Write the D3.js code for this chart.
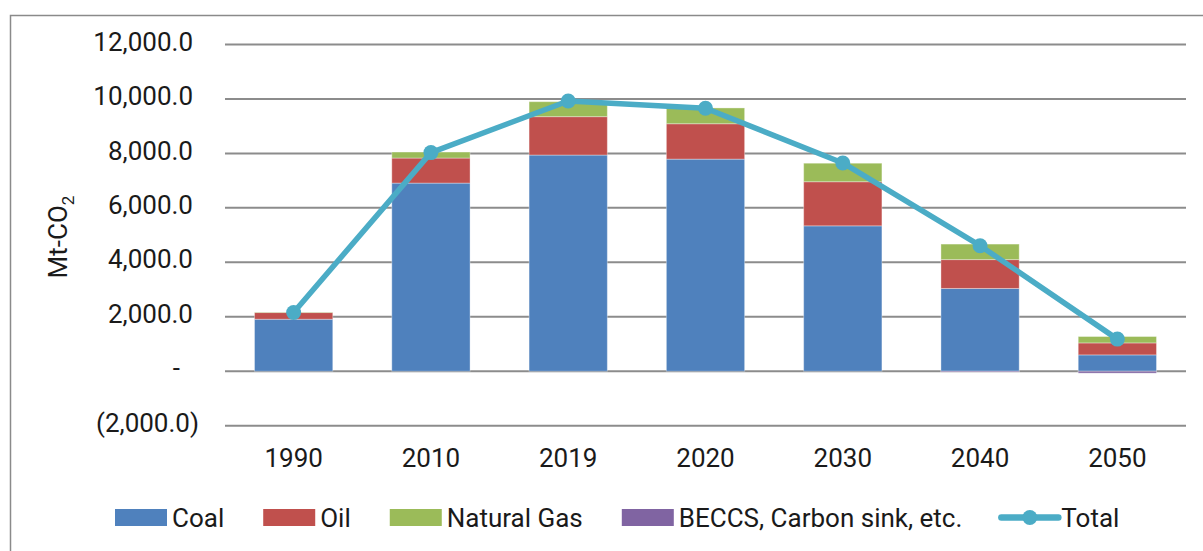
<!DOCTYPE html>
<html>
<head>
<meta charset="utf-8">
<script src="https://cdn.jsdelivr.net/npm/d3@7"></script>
<style>
  body { margin: 0; background: #fff; }
  svg text { font-family: Roboto, "Open Sans", sans-serif; font-weight: 400; fill: #1a1a1a; }
</style>
</head>
<body>
<div id="chart"></div>
<script>
// values (Mt-CO2)
const years = ["1990", "2010", "2019", "2020", "2030", "2040", "2050"];
const coal = [1910, 6910, 7940, 7790, 5340, 3040, 600];
const oil = [245, 920, 1410, 1300, 1620, 1060, 440];
const gas = [15, 220, 550, 580, 680, 570, 235];
const beccs = [0, 0, 0, 0, 0, -30, -70];
const total = [2160, 8030, 9925, 9660, 7650, 4610, 1180];
const yTicks = [-2000, 0, 2000, 4000, 6000, 8000, 10000, 12000];

const seriesKeys = ["Coal", "Oil", "Natural Gas", "BECCS, Carbon sink, etc."];
const colors = {
  "Coal": "#4f81bd",
  "Oil": "#c0504d",
  "Natural Gas": "#9bbb59",
  "BECCS, Carbon sink, etc.": "#8064a2",
  "Total": "#4bacc6"
};

const W = 1203, H = 551;
const rows = years.map((y, i) => ({
  year: y,
  "Coal": coal[i],
  "Oil": oil[i],
  "Natural Gas": gas[i],
  "BECCS, Carbon sink, etc.": beccs[i],
  total: total[i]
}));

const svg = d3.select("#chart").append("svg")
  .attr("width", W)
  .attr("height", H);

// frame (left + top edges only are visible in the reference)
svg.append("path")
  .attr("d", `M10.5,${H} V15.5 H${W}`)
  .attr("fill", "none")
  .attr("stroke", "#8a8a8a")
  .attr("stroke-width", 1.5);

const x = d3.scaleBand()
  .domain(years)
  .range([225, 1186])
  .paddingInner(0.43)
  .paddingOuter(0.215);

const y = d3.scaleLinear()
  .domain([-2000, 12000])
  .range([425.7, 44.5]);

// gridlines
svg.append("g")
  .selectAll("line")
  .data(yTicks)
  .join("line")
  .attr("x1", 225)
  .attr("x2", 1186)
  .attr("y1", d => y(d))
  .attr("y2", d => y(d))
  .attr("stroke", "#8c8c8c")
  .attr("stroke-width", 2);

// y tick labels, accounting format
const fmt = d3.format(",.1f");
const tickText = d => d === 0 ? "-" : d < 0 ? `(${fmt(-d)})` : fmt(d);
svg.append("g")
  .selectAll("text")
  .data(yTicks)
  .join("text")
  .attr("x", d => d < 0 ? 199 : d === 0 ? 180 : 193)
  .attr("y", d => y(d) - 3)
  .attr("dy", "0.35em")
  .attr("text-anchor", "end")
  .style("font-size", "26px")
  .text(tickText);

// y axis title
const yTitle = svg.append("text")
  .attr("transform", "translate(67,237) rotate(-90)")
  .attr("text-anchor", "middle")
  .style("font-size", "26px");
yTitle.append("tspan").text("Mt-CO");
yTitle.append("tspan").attr("dy", 7).style("font-size", "17px").text("2");

// stacked bars
const stack = d3.stack()
  .keys(seriesKeys)
  .offset(d3.stackOffsetDiverging);
const stacked = stack(rows);

svg.append("g")
  .selectAll("g")
  .data(stacked)
  .join("g")
  .attr("fill", d => colors[d.key])
  .selectAll("rect")
  .data(d => d)
  .join("rect")
  .attr("x", d => x(d.data.year))
  .attr("width", x.bandwidth())
  .attr("y", d => y(d[1]))
  .attr("height", d => Math.abs(y(d[0]) - y(d[1])))
  .attr("stroke", "rgba(255,255,255,0.35)")
  .attr("stroke-width", 1);

// x tick labels
svg.append("g")
  .selectAll("text")
  .data(years)
  .join("text")
  .attr("x", d => x(d) + x.bandwidth() / 2)
  .attr("y", 467)
  .attr("text-anchor", "middle")
  .style("font-size", "26px")
  .text(d => d);

// total line + markers
const line = d3.line()
  .x(d => x(d.year) + x.bandwidth() / 2)
  .y(d => y(d.total));

svg.append("path")
  .datum(rows)
  .attr("d", line)
  .attr("fill", "none")
  .attr("stroke", colors["Total"])
  .attr("stroke-width", 5.5)
  .attr("stroke-linejoin", "round");

svg.append("g")
  .selectAll("circle")
  .data(rows)
  .join("circle")
  .attr("cx", d => x(d.year) + x.bandwidth() / 2)
  .attr("cy", d => y(d.total))
  .attr("r", 7.5)
  .attr("fill", colors["Total"]);

// legend, laid out left to right
const legendY = 517.5;
const legend = svg.append("g");
let lx = 115;
[...seriesKeys, "Total"].forEach(key => {
  const g = legend.append("g").attr("transform", `translate(${lx},0)`);
  let textX;
  if (key === "Total") {
    g.append("line")
      .attr("x1", 0).attr("x2", 57)
      .attr("y1", legendY).attr("y2", legendY)
      .attr("stroke", colors[key])
      .attr("stroke-width", 6.5)
      .attr("stroke-linecap", "round");
    g.append("circle")
      .attr("cx", 28.5).attr("cy", legendY).attr("r", 7.5)
      .attr("fill", colors[key]);
    textX = 60;
  } else {
    g.append("rect")
      .attr("x", 0).attr("y", legendY - 8.5)
      .attr("width", 52).attr("height", 17)
      .attr("fill", colors[key]);
    textX = 57;
  }
  const t = g.append("text")
    .attr("x", textX)
    .attr("y", legendY)
    .attr("dy", "0.35em")
    .style("font-size", "26px")
    .text(key);
  lx += textX + t.node().getComputedTextLength() + 39;
});
</script>
</body>
</html>
